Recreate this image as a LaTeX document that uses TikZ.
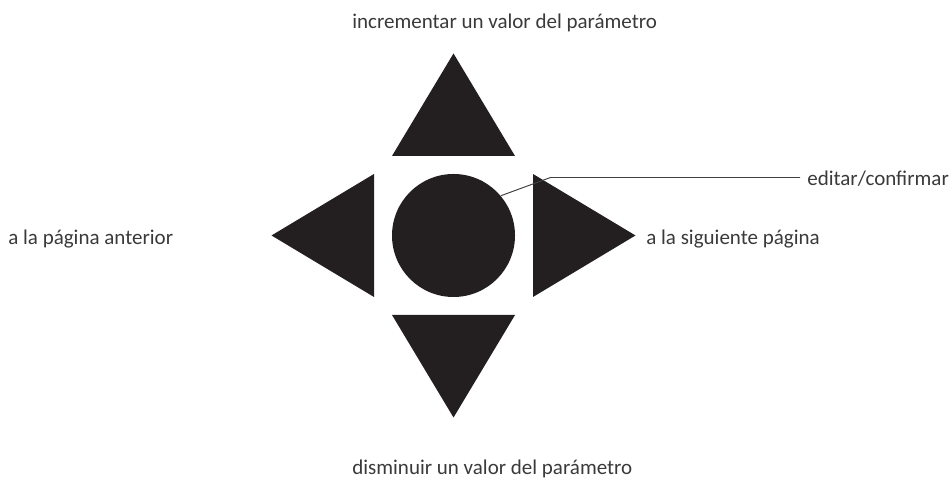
\documentclass[tikz,border=0pt]{standalone}
\usepackage{fontspec}
\setmainfont{Carlito}
\usetikzlibrary{positioning}

\definecolor{padfill}{HTML}{231F20}
\definecolor{labeltext}{HTML}{3A3A3A}
\definecolor{leadline}{HTML}{404040}

\begin{document}
\begin{tikzpicture}[
        font=\fontsize{11.95}{14}\selectfont,
        arrowkey/.style={fill=padfill},
        centerkey/.style={circle, fill=padfill, minimum size=2.46cm, inner sep=0pt},
        lbl/.style={anchor=base west, inner sep=0pt, text=labeltext},
        lead/.style={draw=leadline, line width=0.55pt}
    ]

    % page frame
    \useasboundingbox (0,0) rectangle (19.02,9.62);

    % Centre button
    \node[centerkey] (btn) at (9.07,4.91) {};

    % Arrow keys
    \fill[arrowkey] (7.84,6.50) -- (10.30,6.50) -- (9.07,8.55) -- cycle;
    \fill[arrowkey] (7.84,3.32) -- (10.30,3.32) -- (9.07,1.27) -- cycle;
    \fill[arrowkey] (7.48,6.14) -- (7.48,3.68) -- (5.43,4.91) -- cycle;
    \fill[arrowkey] (10.66,6.14) -- (10.66,3.68) -- (12.71,4.91) -- cycle;

    % Labels
    \node[lbl] (up)    at (7.04,9.05)  {incrementar un valor del parámetro};
    \node[lbl] (down)  at (7.04,0.13)  {disminuir un valor del parámetro};
    \node[lbl] (prev)  at (0.16,4.72)  {a la página anterior};
    \node[lbl] (next)  at (12.92,4.72) {a la siguiente página};
    \node[lbl] (enter) at (16.14,5.90) {editar/confirmar};

    % Leader to the centre button
    \coordinate (knee) at (11.01,6.07);
    \coordinate (tip)  at (16.00,6.07);
    \draw[lead] (btn.40) -- (knee) -- (tip);

\end{tikzpicture}
\end{document}
